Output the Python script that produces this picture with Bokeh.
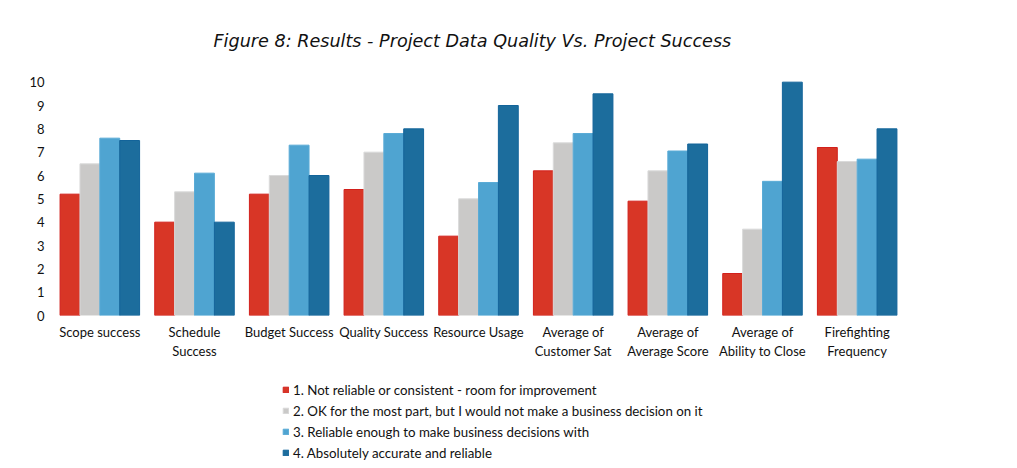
from bokeh.plotting import figure
from bokeh.layouts import column
from bokeh.models import ColumnDataSource, FactorRange, Range1d, Legend, LegendItem, FixedTicker
from bokeh.transform import dodge
from bokeh.embed import file_html
from bokeh.resources import INLINE

categories = ["Scope success", "Schedule\nSuccess", "Budget Success", "Quality Success",
              "Resource Usage", "Average of\nCustomer Sat", "Average of\nAverage Score",
              "Average of\nAbility to Close", "Firefighting\nFrequency"]
series_names = ["1. Not reliable or consistent - room for improvement",
                "2. OK for the most part, but I would not make a business decision on it",
                "3. Reliable enough to make business decisions with",
                "4. Absolutely accurate and reliable"]
s1 = [5.2, 4.0, 5.2, 5.4, 3.4, 6.2, 4.9, 1.8, 7.2]
s2 = [6.5, 5.3, 6.0, 7.0, 5.0, 7.4, 6.2, 3.7, 6.6]
s3 = [7.6, 6.1, 7.3, 7.8, 5.7, 7.8, 7.05, 5.75, 6.7]
s4 = [7.5, 4.0, 6.0, 8.0, 9.0, 9.5, 7.35, 10.0, 8.0]
colors = ["#D83626", "#CAC9C8", "#4FA4D1", "#1C6D9D"]
line_colors = ["#D2201C", "#DADADA", "#5AABD6", "#13649A"]
y_ticks = [0, 1, 2, 3, 4, 5, 6, 7, 8, 9, 10]

src = ColumnDataSource(dict(cat=categories, s1=s1, s2=s2, s3=s3, s4=s4))

FONT = "Lato"
p = figure(width=1001, height=376, x_range=FactorRange(*categories, range_padding=0),
           y_range=Range1d(0, 10.5), output_backend="svg", toolbar_location=None,
           min_border_left=52, min_border_right=97, min_border_top=70, min_border_bottom=61)
p.x_range.factor_padding = 0

bw = 0.21
offsets = [-1.5 * bw, -0.5 * bw, 0.5 * bw, 1.5 * bw]
for i, col in enumerate(["s1", "s2", "s3", "s4"]):
    p.vbar(x=dodge("cat", offsets[i], range=p.x_range), top=col, width=bw, source=src,
           fill_color=colors[i], line_color=line_colors[i], line_width=1)

p.title.text = "Figure 8: Results - Project Data Quality Vs. Project Success"
p.title.align = "left"
p.title.offset = 161
p.title.text_font = "DejaVu Sans"
p.title.text_font_style = "italic"
p.title.text_font_size = "17.6px"
p.title.text_color = "#111111"
p.title.standoff = 40

p.xgrid.visible = False
p.ygrid.visible = False
p.outline_line_color = None

p.yaxis.ticker = FixedTicker(ticks=y_ticks)
p.yaxis.axis_line_color = None
p.yaxis.major_tick_line_color = None
p.yaxis.major_tick_out = 0
p.yaxis.minor_tick_line_color = None
p.yaxis.major_label_text_font = FONT
p.yaxis.major_label_text_font_size = "13px"
p.yaxis.major_label_text_color = "#111111"
p.yaxis.major_label_standoff = 8

p.xaxis.axis_line_color = None
p.xaxis.major_tick_line_color = None
p.xaxis.major_tick_out = 0
p.xaxis.major_label_text_font = FONT
p.xaxis.major_label_text_font_size = "13px"
p.xaxis.major_label_text_color = "#111111"
p.xaxis.major_label_standoff = 8

# legend panel below the chart (dummy bars far outside its visible range)
lg = figure(width=1001, height=84, x_range=Range1d(0, 1), y_range=Range1d(0, 1),
            output_backend="svg", toolbar_location=None,
            min_border_left=0, min_border_right=0, min_border_top=0, min_border_bottom=0)
lg.axis.visible = False
lg.grid.visible = False
lg.outline_line_color = None
items = []
for i in range(4):
    r = lg.vbar(x=[-100], top=[-99], bottom=[-100], width=0.1,
                fill_color=colors[i], line_color=line_colors[i])
    items.append(LegendItem(label=series_names[i], renderers=[r]))
legend = Legend(items=items, location=(230, -3), orientation="vertical",
                glyph_width=7, glyph_height=7, label_standoff=4, label_height=21, spacing=0,
                padding=0, margin=0, border_line_color=None, background_fill_alpha=0,
                label_text_font=FONT, label_text_font_size="13.3px", label_text_color="#111111")
lg.add_layout(legend)

layout = column(p, lg, spacing=0)
open("out.html", "w").write(file_html(layout, INLINE))
